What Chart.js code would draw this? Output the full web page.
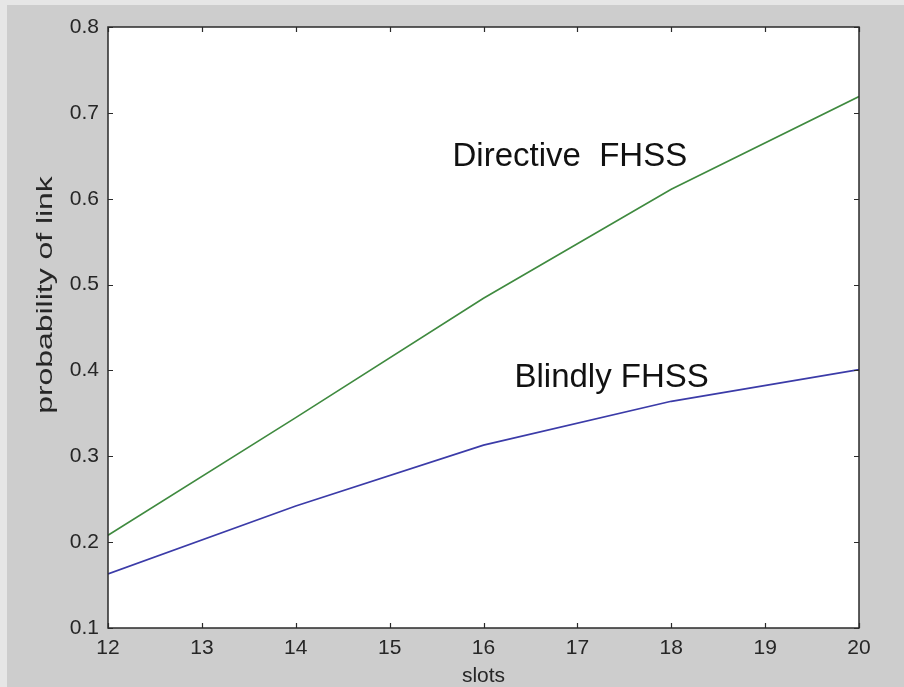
<!DOCTYPE html>
<html>
<head>
<meta charset="utf-8">
<script src="https://cdn.jsdelivr.net/npm/chart.js@4.4.0/dist/chart.umd.min.js"></script>
<style>
  html, body { margin: 0; padding: 0; background: #e6e6e6; width: 904px; height: 687px; overflow: hidden; }
  #c { position: absolute; left: 7px; top: 5px; }
</style>
</head>
<body>
<canvas id="c" width="897" height="682"></canvas>
<script>
// ---- data ----
const slots = [12, 14, 16, 18, 20];
const directiveFHSS = [0.208, 0.345, 0.484, 0.611, 0.719];
const blindlyFHSS   = [0.163, 0.242, 0.313, 0.364, 0.401];
const xTicks = [12, 13, 14, 15, 16, 17, 18, 19, 20];
const yTicks = [0.1, 0.2, 0.3, 0.4, 0.5, 0.6, 0.7, 0.8];
const labelDirective = 'Directive  FHSS';
const labelBlindly = 'Blindly FHSS';
const xTitle = 'slots';
const yTitle = 'probability of link';

const FONT = 'Arial, "Liberation Sans", sans-serif';

const framePlugin = {
  id: 'frame',
  beforeDraw(chart) {
    const ctx = chart.ctx, a = chart.chartArea;
    ctx.save();
    ctx.fillStyle = '#cdcdcd';
    ctx.fillRect(0, 0, chart.width, chart.height);
    ctx.fillStyle = '#ffffff';
    ctx.fillRect(a.left, a.top, a.right - a.left, a.bottom - a.top);
    ctx.restore();
  },
  afterDraw(chart) {
    const ctx = chart.ctx, a = chart.chartArea;
    const xs = chart.scales.x, ys = chart.scales.y;
    ctx.save();
    ctx.strokeStyle = '#2a2a2a';
    ctx.lineWidth = 1.5;
    ctx.strokeRect(a.left, a.top, a.right - a.left, a.bottom - a.top);
    ctx.lineWidth = 1.2;
    const tl = 5;
    ctx.beginPath();
    xTicks.forEach(v => {
      const px = Math.round(xs.getPixelForValue(v)) + 0.5;
      ctx.moveTo(px, a.bottom); ctx.lineTo(px, a.bottom - tl);
      ctx.moveTo(px, a.top); ctx.lineTo(px, a.top + tl);
    });
    yTicks.forEach(v => {
      const py = Math.round(ys.getPixelForValue(v)) + 0.5;
      ctx.moveTo(a.left, py); ctx.lineTo(a.left + tl, py);
      ctx.moveTo(a.right, py); ctx.lineTo(a.right - tl, py);
    });
    ctx.stroke();

    // annotations
    ctx.fillStyle = '#111111';
    ctx.font = '33px ' + FONT;
    ctx.textBaseline = 'alphabetic';
    ctx.textAlign = 'left';
    ctx.fillText(labelDirective, xs.getPixelForValue(15.67), ys.getPixelForValue(0.638));
    ctx.fillText(labelBlindly, xs.getPixelForValue(16.33), ys.getPixelForValue(0.381));

    // y-axis title (tall, narrow look as in the reference)
    ctx.fillStyle = '#262626';
    ctx.font = '22px ' + FONT;
    ctx.textAlign = 'center';
    ctx.textBaseline = 'middle';
    ctx.translate(39, 290);
    ctx.rotate(-Math.PI / 2);
    ctx.scale(1.45, 1);
    ctx.fillText(yTitle, 0, 0);
    ctx.restore();
  }
};

new Chart(document.getElementById('c'), {
  type: 'line',
  data: {
    datasets: [
      { label: 'Directive FHSS', data: slots.map((s, i) => ({ x: s, y: directiveFHSS[i] })),
        borderColor: '#3f8a3f', borderWidth: 1.6, pointRadius: 0, tension: 0, fill: false },
      { label: 'Blindly FHSS', data: slots.map((s, i) => ({ x: s, y: blindlyFHSS[i] })),
        borderColor: '#3b3ba8', borderWidth: 1.6, pointRadius: 0, tension: 0, fill: false }
    ]
  },
  options: {
    responsive: false,
    animation: false,
    devicePixelRatio: 1,
    layout: { padding: { top: 22, right: 45, left: 0, bottom: 0 } },
    plugins: { legend: { display: false }, tooltip: { enabled: false } },
    scales: {
      x: {
        type: 'linear', min: 12, max: 20,
        afterBuildTicks(s) { s.ticks = xTicks.map(v => ({ value: v })); },
        afterFit(s) { s.height = 59; },
        grid: { display: false, drawTicks: false },
        border: { display: false },
        ticks: { color: '#262626', font: { size: 21, family: FONT }, padding: 8, maxRotation: 0 },
        title: { display: true, text: xTitle, color: '#262626', font: { size: 21, family: FONT }, padding: { top: 0, bottom: -2 } }
      },
      y: {
        type: 'linear', min: 0.1, max: 0.8,
        afterBuildTicks(s) { s.ticks = yTicks.map(v => ({ value: v })); },
        afterFit(s) { s.width = 101; },
        grid: { display: false, drawTicks: false },
        border: { display: false },
        ticks: { color: '#262626', font: { size: 21, family: FONT }, padding: 9, callback: v => v.toFixed(1) }
      }
    }
  },
  plugins: [framePlugin]
});
</script>
</body>
</html>
